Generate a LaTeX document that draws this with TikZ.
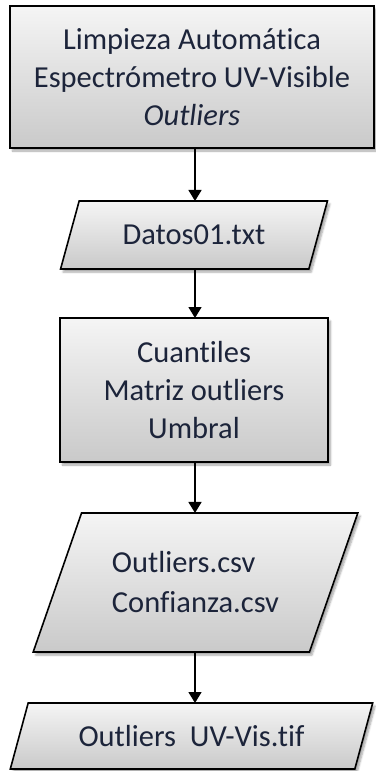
\documentclass[tikz,border=0pt]{standalone}
\usepackage{fontspec}
\setmainfont[Ligatures=NoCommon]{Carlito}
\usetikzlibrary{shapes.geometric,arrows.meta,shadows.blur}
\definecolor{txt}{RGB}{28,36,58}
\tikzset{
  block/.style={draw=black, line width=1.6pt, top color=gray!8, bottom color=gray!42,
    blur shadow={shadow xshift=2.5pt, shadow yshift=-3pt, shadow blur steps=6, shadow opacity=35},
    text=txt, font=\fontsize{30.5}{38}\selectfont, inner sep=0pt, outer sep=0pt},
  procbox/.style={block, rectangle, align=center},
  databox/.style={block, trapezium, trapezium left angle=60, trapezium right angle=120,
    trapezium stretches=true},
  flow/.style={line width=1.5pt, -{Triangle[width=13pt,length=11pt]}}
}
\begin{document}
\begin{tikzpicture}
\useasboundingbox (0,0) rectangle (375pt,-771pt);

\node[procbox, minimum width=364pt, minimum height=142pt] (head) at (192pt,-77pt)
  {Limpieza Automática\\Espectrómetro UV-Visible\\\textit{Outliers}};

\node[databox, minimum width=267pt, minimum height=68pt] (datos) at (194pt,-235pt)
  {Datos01.txt};

\node[procbox, minimum width=268pt, minimum height=144pt] (calc) at (194pt,-390pt)
  {Cuantiles\\Matriz outliers\\Umbral};

\node[databox, minimum width=325pt, minimum height=139pt, align=left] (csv) at (195.5pt,-582.5pt)
  {Outliers.csv\\[2pt]Confianza.csv};

\node[databox, minimum width=363pt, minimum height=66pt] (tif) at (191.5pt,-736pt)
  {Outliers\ \ UV-Vis.tif};

\coordinate (a0) at (195pt,0);
\draw[flow] (a0 |- head.south) -- (a0 |- datos.north);
\draw[flow] (a0 |- datos.south) -- (a0 |- calc.north);
\draw[flow] (a0 |- calc.south) -- (a0 |- csv.north);
\draw[flow] (a0 |- csv.south) -- (a0 |- tif.north);
\end{tikzpicture}
\end{document}
